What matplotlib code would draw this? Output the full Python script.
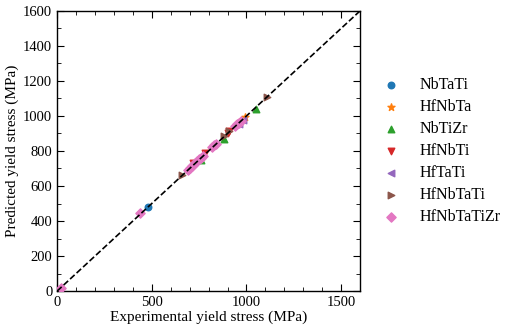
import numpy as np
import matplotlib
matplotlib.use("Agg")
import matplotlib.pyplot as plt
from matplotlib.ticker import MultipleLocator

plt.rcParams['font.family'] = ['Liberation Serif', 'DejaVu Serif']
plt.rcParams['mathtext.fontset'] = 'stix'

alloys = ["NbTaTi", "HfNbTa", "NbTiZr", "HfNbTi", "HfTaTi", "HfNbTaTi", "HfNbTaTiZr"]
markers = ["o", "*", "^", "v", "<", ">", "D"]
colors = ["C0", "C1", "C2", "C3", "C4", "C5", "C6"]

exp_vals = {
    "NbTaTi": [480],
    "HfNbTa": [990, 960],
    "NbTiZr": [1050, 760, 880],
    "HfNbTi": [780, 720, 900, 910],
    "HfTaTi": [980, 960],
    "HfNbTaTi": [660, 880, 1110, 910],
    "HfNbTaTiZr": [20, 440, 690, 700, 710, 720, 730, 740, 750, 760, 770, 820, 830, 840, 940, 950, 960, 970],
}
pred_vals = {
    "NbTaTi": [480],
    "HfNbTa": [995, 965],
    "NbTiZr": [1040, 750, 870],
    "HfNbTi": [790, 730, 905, 915],
    "HfTaTi": [975, 955],
    "HfNbTaTi": [665, 885, 1110, 915],
    "HfNbTaTiZr": [20, 445, 690, 700, 712, 722, 733, 742, 752, 762, 772, 822, 832, 842, 942, 952, 962, 972],
}

fig = plt.figure(figsize=(5.1, 3.3), dpi=100)
ax = fig.add_axes([0.112, 0.118, 0.594, 0.849])

for name, m, c in zip(alloys, markers, colors):
    ms = 28 if m == "*" else 22
    ax.scatter(exp_vals[name], pred_vals[name], marker=m, color=c, s=ms, label=name, zorder=3)

ax.plot([0, 1600], [0, 1600], "k--", lw=1.2, zorder=4)

ax.set_xlim(0, 1600)
ax.set_ylim(0, 1600)
ax.xaxis.set_major_locator(MultipleLocator(500))
ax.xaxis.set_minor_locator(MultipleLocator(100))
ax.yaxis.set_major_locator(MultipleLocator(200))
ax.yaxis.set_minor_locator(MultipleLocator(100))
ax.tick_params(which="both", direction="in", top=True, right=True, labelsize=10.5)
ax.tick_params(which="major", length=5)
ax.tick_params(which="minor", length=3)
for s in ax.spines.values():
    s.set_linewidth(1.0)
ax.set_xlabel("Experimental yield stress (MPa)", fontsize=11, labelpad=1)
ax.set_ylabel("Predicted yield stress (MPa)", fontsize=11, labelpad=3)

ax.legend(loc="center left", bbox_to_anchor=(1.003, 0.5), frameon=False, fontsize=11.5,
          handletextpad=0.75, labelspacing=0.38, markerscale=1.0)

fig.savefig("out.png", dpi=100)
